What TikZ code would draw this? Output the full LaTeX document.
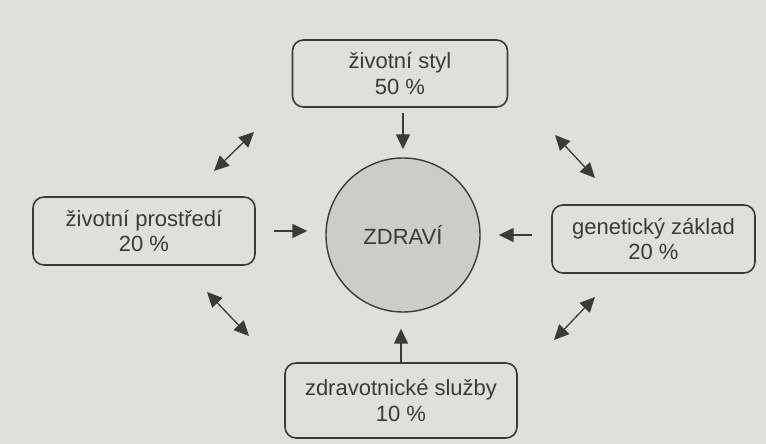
\documentclass[tikz,border=0pt]{standalone}
\usepackage{fontspec}
\setmainfont{Liberation Sans}
\usetikzlibrary{arrows.meta}
\definecolor{paper}{RGB}{224,224,219}
\definecolor{ink}{RGB}{58,58,56}
\definecolor{ballfill}{RGB}{204,204,200}
\begin{document}
\begin{tikzpicture}[x=1pt,y=-1pt,
  box/.style={draw=ink, line width=1.6pt, rounded corners=11pt, align=center,
    text=ink, font=\fontsize{22}{25.5}\selectfont, inner sep=0pt},
  ball/.style={circle, draw=ink, line width=1.4pt, fill=ballfill, minimum size=154pt,
    inner sep=0pt, text=ink, font=\fontsize{22}{25.5}\selectfont},
  arr/.style={draw=ink, line width=1.5pt, -{Triangle[length=15pt,width=14pt]}},
  darr/.style={draw=ink, line width=1.3pt, {Triangle[length=15pt,width=14pt]}-{Triangle[length=15pt,width=14pt]}}
]
\fill[paper] (0,0) rectangle (766,444);
\useasboundingbox (0,0) rectangle (766,444);

\node[ball] (zd) at (403,235) {ZDRAVÍ};
\node[box, minimum width=215pt, minimum height=67pt] (top) at (400,73.5) {životní styl\\50 \%};
\node[box, minimum width=222pt, minimum height=68pt] (left) at (144,231) {životní prostředí\\20 \%};
\node[box, minimum width=203pt, minimum height=68pt] (right) at (653.5,239) {genetický základ\\20 \%};
\node[box, minimum width=232pt, minimum height=75pt] (bot) at (401,400.5) {zdravotnické služby\\10 \%};

\draw[arr, shorten <=5pt, shorten >=8pt] (top.south -| zd.north) -- (zd.north);
\draw[arr, shorten <=18pt, shorten >=18pt] (left.east) -- (left.east -| zd.west);
\draw[arr, shorten <=19pt, shorten >=18pt] (right.west |- zd.east) -- (zd.east);
\draw[arr, shorten >=16pt] (bot.north) -- (bot.north |- zd.south);

\coordinate (tl1) at (214,171);
\coordinate (tl2) at (254,132);
\coordinate (tr1) at (555,135);
\coordinate (tr2) at (595,178);
\coordinate (bl1) at (207,292);
\coordinate (bl2) at (249,336);
\coordinate (br1) at (554,340);
\coordinate (br2) at (595,297);
\draw[darr] (tl1) -- (tl2);
\draw[darr] (tr1) -- (tr2);
\draw[darr] (bl1) -- (bl2);
\draw[darr] (br1) -- (br2);
\end{tikzpicture}
\end{document}
